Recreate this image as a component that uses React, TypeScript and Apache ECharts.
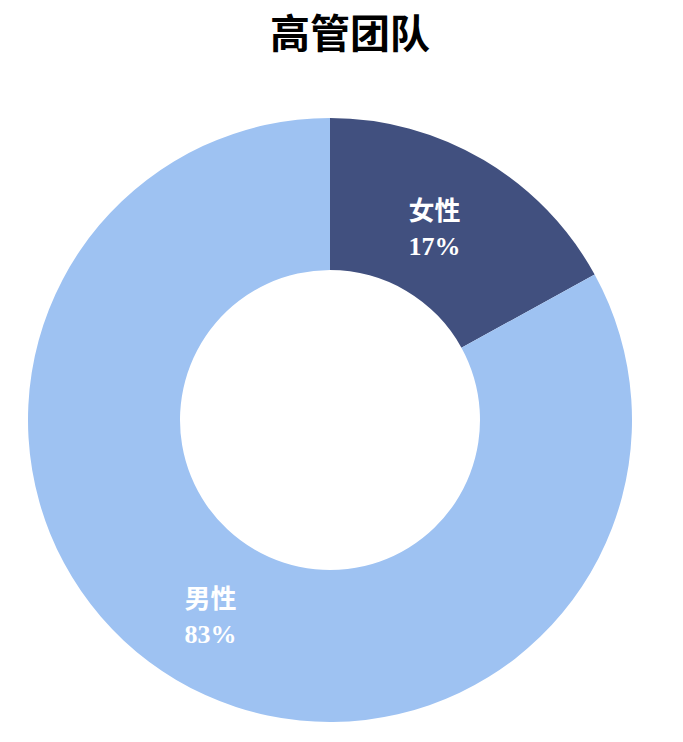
import React, { useEffect, useRef } from 'react'
import * as echarts from 'echarts'

const titleText = '高管团队'
const categories = ['女性', '男性']
const shares = [17, 83]
const colors = ['#41507f', '#9ec2f2']

const App: React.FC = () => {
  const chartRef = useRef<HTMLDivElement>(null)

  useEffect(() => {
    if (!chartRef.current) return
    const chart = echarts.init(chartRef.current, undefined, { renderer: 'svg' })

    const option: echarts.EChartsOption = {
      animation: false,
      backgroundColor: '#ffffff',
      title: {
        text: titleText,
        left: 265,
        top: 6,
        textStyle: {
          fontSize: 40,
          fontWeight: 'bold',
          color: '#000000',
          fontFamily: '"Noto Sans CJK SC", sans-serif',
        },
      },
      series: [
        {
          type: 'pie',
          center: [330, 420],
          radius: [150, 302],
          startAngle: 90,
          clockwise: true,
          data: categories.map((name, i) => ({
            name,
            value: shares[i],
            itemStyle: { color: colors[i] },
            // nudge the small slice's label a little toward the ring's inside
            label: i === 0 ? { offset: [-12, 6] } : { offset: [-3, 0] },
          })),
          itemStyle: { borderWidth: 0 },
          label: {
            show: true,
            position: 'inside',
            formatter: (p: any) => `${p.name}\n${p.value}%`,
            color: '#ffffff',
            fontSize: 26,
            fontWeight: 'bold',
            lineHeight: 35,
            fontFamily: '"Liberation Serif", "Noto Sans CJK SC", serif',
          },
          labelLine: { show: false },
          emphasis: { disabled: true },
        },
      ],
    }

    chart.setOption(option)
    return () => {
      chart.dispose()
    }
  }, [])

  return (
    <div
      ref={chartRef}
      style={{ position: 'absolute', left: 0, top: 0, width: '683px', height: '742px' }}
    />
  )
}

export default App
